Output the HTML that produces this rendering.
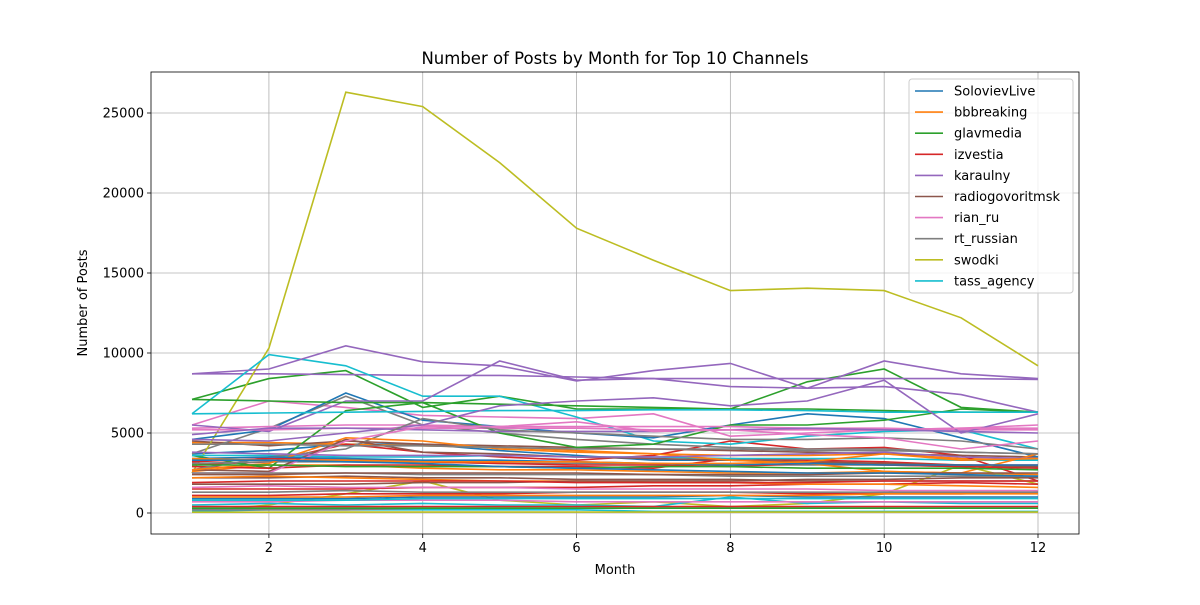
<!DOCTYPE html>
<html><head><meta charset="utf-8"><style>
body{margin:0;background:#fff;font-family:"Liberation Sans","DejaVu Sans",sans-serif}
svg text{font-family:"DejaVu Sans","Liberation Sans",sans-serif;}
</style></head><body>
<svg id="chart" width="1200" height="600">
<rect width="1200" height="600" fill="#fff"/>
<g id="grid"></g><g id="lines"></g><g id="axes"></g>
</svg>
<script>
const months=[1,2,3,4,5,6,7,8,9,10,11,12];
const xTicks=[2,4,6,8,10,12];
const yTicks=[0,5000,10000,15000,20000,25000];
const legendLabels=["SolovievLive","bbbreaking","glavmedia","izvestia","karaulny","radiogovoritmsk","rian_ru","rt_russian","swodki","tass_agency"];
const colors=["#1f77b4","#ff7f0e","#2ca02c","#d62728","#9467bd","#8c564b","#e377c2","#7f7f7f","#bcbd22","#17becf"];
const series=[
[0,3700,3900,4300,4300,3900,3600,3300,3300,3200,3100,3000,2900],
[1,4400,4400,4300,4200,4100,3900,3700,3600,3600,3700,3400,3300],
[2,7100,8400,8900,6600,7300,6500,6500,6500,8200,9000,6600,6300],
[3,3000,3200,4300,3800,3500,3300,3600,4500,4000,4100,3600,2000],
[4,8700,8700,8650,8600,8600,8500,8400,8400,8400,8400,8400,8350],
[5,4500,4200,4500,4300,4200,4100,4000,3900,3800,3700,3600,3500],
[6,5500,7000,6600,6100,6000,5900,6200,4800,5000,5200,5300,5500],
[7,3700,5300,7300,5500,5000,4600,4300,4100,4000,4000,3800,3700],
[8,2500,10300,26300,25400,21900,17800,15800,13900,14050,13900,12200,9200],
[9,6200,9900,9200,7300,7300,6000,4500,4300,4800,5100,5200,4000],
[0,4600,5200,7500,5800,5400,5000,4700,5500,6200,5900,4700,3500],
[1,2600,3000,3000,2800,2700,2700,2600,2500,2500,2600,2500,2400],
[2,3600,2800,6400,6900,5000,4100,4300,5500,5500,5800,6500,6300],
[3,2900,2800,3000,3000,2900,2900,2800,3400,3300,3200,3000,3000],
[4,8700,9000,10450,9450,9200,8250,8900,9350,7800,9500,8700,8400],
[5,2200,2200,2300,2200,2200,2100,2100,2100,2000,2000,2000,2000],
[6,5300,5400,5500,5500,5400,5400,5400,5400,5300,5300,5200,5200],
[7,3100,3200,3200,3200,3100,3100,3100,3000,3000,3000,2900,2900],
[8,100,500,1200,2000,800,500,700,400,600,1200,3000,1800],
[9,3600,3600,3500,3500,3600,3500,3500,3400,3400,3400,3300,3300],
[4,5500,5100,7000,7000,9500,8300,8400,7900,7800,7900,7400,6300],
[2,7100,7000,6900,6900,6800,6700,6600,6500,6500,6400,6300,6300],
[9,6200,6250,6300,6350,6400,6400,6450,6450,6400,6300,6300,6300],
[4,4600,4500,5000,5500,6700,7000,7200,6700,7000,8300,5000,6200],
[6,5200,5200,5300,5300,5300,5300,5200,5200,5200,5200,5300,5300],
[4,4900,5300,5300,5200,5100,5100,5100,5200,5300,5200,5100,5000],
[7,2700,3500,4000,5900,5200,5000,4800,4600,4600,4700,4500,4000],
[5,2700,2600,4600,3800,3700,3500,3400,3300,3200,3100,3000,2900],
[1,2700,3100,4700,4500,4000,3800,3700,3300,3100,2600,2500,3700],
[3,3200,3400,3400,3200,3100,3000,3000,2900,3100,3000,2900,2800],
[6,2500,2500,4500,5400,5400,5700,5100,5200,4900,4700,4000,4500],
[0,3400,3500,3400,3300,3300,3200,3100,3000,3100,3000,3000,3000],
[2,3000,3000,2900,2900,2900,2800,2900,2900,2800,2800,2800,2700],
[3,1500,1500,1500,1600,1600,1600,1700,1700,1800,1800,1900,1800],
[7,2500,2500,2500,2400,2400,2400,2400,2300,2300,2300,2300,2300],
[1,2200,2300,2200,2100,2000,2000,1900,1900,1800,1800,1700,1600],
[5,1800,1800,1800,1900,1900,2000,2000,2000,2100,2100,2200,2200],
[6,1600,1700,1600,1600,1600,1500,1500,1500,1500,1400,1400,1400],
[3,1100,1100,1200,1200,1200,1300,1300,1300,1200,1200,1200,1300],
[7,1300,1300,1400,1300,1300,1300,1300,1300,1300,1300,1300,1300],
[0,900,900,900,1000,1000,1000,1000,1100,1000,1000,1000,1000],
[9,500,600,500,600,500,500,400,1000,600,700,600,600],
[6,700,700,800,800,800,700,700,700,700,700,700,700],
[3,400,400,400,400,400,400,400,400,400,400,400,400],
[9,100,200,200,200,200,200,100,100,100,100,100,100],
[8,50,50,60,60,60,60,60,60,60,60,60,60],
[7,200,200,200,300,300,300,300,300,300,300,300,300],
[2,300,300,300,300,300,300,300,300,300,300,300,300],
[4,3800,3700,3600,3600,3600,3500,3500,3600,3700,3800,3500,3400],
[1,3400,3300,3300,3200,3200,3200,3100,3100,3200,3700,3300,3400],
[5,2400,2400,2500,2500,2500,2500,2400,2400,2400,2500,2500,2500],
[3,1900,2000,2000,2000,2000,1900,1900,1900,1900,2000,2000,2000],
[9,800,800,800,900,900,900,900,900,900,900,900,900],
[0,3300,3300,3200,3100,2900,2800,2700,2600,2500,2500,2400,2300],
[7,4300,4300,4200,4200,4100,4000,4000,4000,3900,3900,3800,3700],
[1,1000,1000,1000,1100,1100,1100,1100,1100,1100,1200,1200,1200]
];
const L=151,R=1079,T=72,B=534;
const xs=m=>192+(m-1)*(1038-192)/11;
const ys=v=>513-v*400/25000;
const NS="http://www.w3.org/2000/svg";
function mk(tag,attrs,parent){const e=document.createElementNS(NS,tag);for(const k in attrs)e.setAttribute(k,attrs[k]);parent.appendChild(e);return e;}
const grid=document.getElementById('grid'),lines=document.getElementById('lines'),axes=document.getElementById('axes');
xTicks.forEach(t=>{const g=mk('line',{x1:xs(t),x2:xs(t),y1:T,y2:B,stroke:'#b0b0b0','stroke-width':0.8},grid);


mk('line',{x1:xs(t),x2:xs(t),y1:B,y2:B+4,stroke:'#000','stroke-width':0.8},axes);
const tx=mk('text',{x:xs(t),y:B+18,'text-anchor':'middle','font-size':13},axes);tx.textContent=t;

});
yTicks.forEach(t=>{const g=mk('line',{x1:L,x2:R,y1:ys(t),y2:ys(t),stroke:'#b0b0b0','stroke-width':0.8},grid);


mk('line',{x1:L-4,x2:L,y1:ys(t),y2:ys(t),stroke:'#000','stroke-width':0.8},axes);
const tx=mk('text',{x:L-7,y:ys(t)+4.5,'text-anchor':'end','font-size':13},axes);tx.textContent=t;

});
series.forEach((s,i)=>{const pts=months.map((m,j)=>xs(m)+','+ys(s[j+1])).join(' ');
const p=mk('polyline',{points:pts,fill:'none',stroke:colors[s[0]],'stroke-width':1.6},lines);

});
const fr=mk('rect',{x:L,y:T,width:R-L,height:B-T,fill:'none',stroke:'#000','stroke-width':0.8},axes);


const title=mk('text',{x:615,y:64,'text-anchor':'middle','font-size':16.5},axes);title.textContent='Number of Posts by Month for Top 10 Channels';


const xl=mk('text',{x:615,y:574,'text-anchor':'middle','font-size':13},axes);xl.textContent='Month';


const yl=mk('text',{x:87,y:303,'text-anchor':'middle','font-size':13,transform:'rotate(-90 87 303)'},axes);yl.textContent='Number of Posts';


const lg=mk('g',{},axes);


mk('rect',{x:909,y:79,width:164,height:214,rx:3,fill:'#fff','fill-opacity':0.8,stroke:'#ccc'},lg);
legendLabels.forEach((n,i)=>{const y=91+i*21.1;
const e=mk('g',{},lg);


mk('line',{x1:915,x2:943,y1:y,y2:y,stroke:colors[i],'stroke-width':1.6},e);
const t=mk('text',{x:954,y:y+4.5,'font-size':13},e);t.textContent=n;});
</script>
</body></html>
